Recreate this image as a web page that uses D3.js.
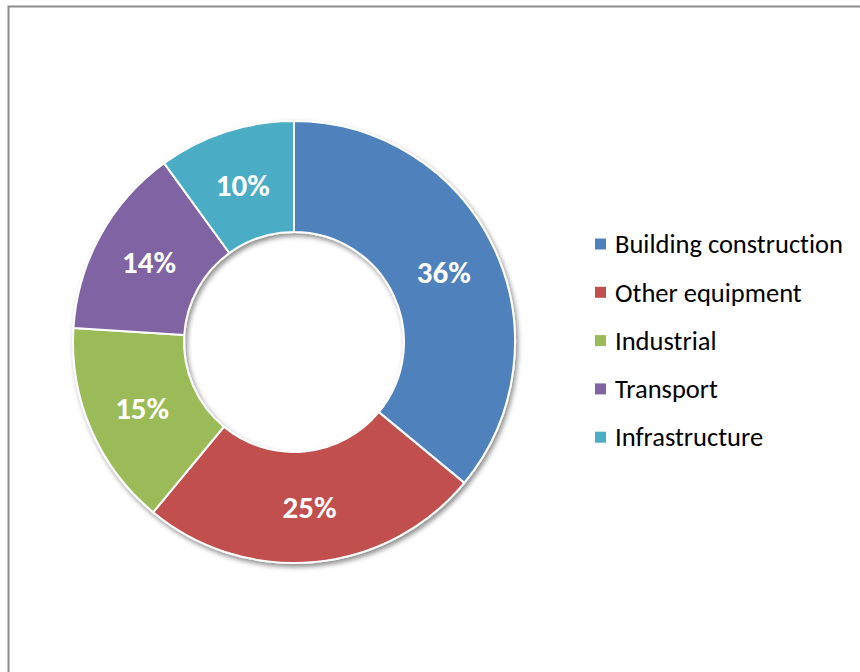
<!DOCTYPE html>
<html>
<head>
<meta charset="utf-8">
<script src="https://cdn.jsdelivr.net/npm/d3@7"></script>
<style>
  html, body { margin: 0; padding: 0; background: #fff; }
  svg { display: block; }
  text { font-family: Carlito, Lato, "Open Sans", sans-serif; font-variant-ligatures: none; font-feature-settings: "liga" 0, "clig" 0; }
</style>
</head>
<body>
<svg id="chart" width="860" height="672"></svg>
<script>
// Share of demand by end use
const categories = ["Building construction", "Other equipment", "Industrial", "Transport", "Infrastructure"];
const values = [36, 25, 15, 14, 10];
const colors = ["#4F81BD", "#C0504D", "#9BBB59", "#8064A2", "#4BACC6"];

const svg = d3.select("#chart");
const W = 860, H = 672;

// Chart frame
svg.append("rect")
  .attr("x", 8.5).attr("y", 6.5)
  .attr("width", W + 20).attr("height", H + 20)
  .attr("fill", "#fff")
  .attr("stroke", "#8c8c8c")
  .attr("stroke-width", 2);

// Soft drop shadow under the ring
const defs = svg.append("defs");
const f = defs.append("filter").attr("id", "shadow")
  .attr("x", "-20%").attr("y", "-20%").attr("width", "140%").attr("height", "140%");
f.append("feDropShadow")
  .attr("dx", 2).attr("dy", 3).attr("stdDeviation", 2.5)
  .attr("flood-color", "#000").attr("flood-opacity", 0.45);

const cx = 294, cy = 342;
const outerR = 221, innerR = 110;

const data = categories.map((c, i) => ({ name: c, value: values[i], color: colors[i] }));

const pie = d3.pie().value(d => d.value).sort(null);
const arc = d3.arc().innerRadius(innerR).outerRadius(outerR);
const labelArc = d3.arc().innerRadius((innerR + outerR) / 2).outerRadius((innerR + outerR) / 2);
const arcs = pie(data);

const g = svg.append("g").attr("transform", `translate(${cx},${cy})`);

g.append("g").attr("filter", "url(#shadow)")
  .selectAll("path")
  .data(arcs)
  .join("path")
  .attr("d", arc)
  .attr("fill", d => d.data.color)
  .attr("stroke", "#fff")
  .attr("stroke-width", 2)
  .attr("stroke-linejoin", "round");

const total = d3.sum(values);
const pct = g.selectAll("text.pct")
  .data(arcs)
  .join("text")
  .attr("class", "pct")
  .attr("transform", d => `translate(${labelArc.centroid(d)})`)
  .attr("text-anchor", "middle")
  .attr("dy", "0.36em")
  .attr("fill", "#fff")
  .attr("font-weight", "bold")
  .attr("font-size", 27)
  .text(d => Math.round(d.data.value / total * 100) + "%");

// Size the slice labels so "36%" spans about 54px
const pl = pct.node().getComputedTextLength();
if (pl > 0) pct.attr("font-size", 27 * 54 / pl);

// Legend
const legendX = 595, legendY0 = 244, legendStep = 48.3;
const legend = svg.append("g");
const items = legend.selectAll("g")
  .data(data)
  .join("g")
  .attr("transform", (d, i) => `translate(${legendX},${legendY0 + i * legendStep})`);

items.append("rect")
  .attr("x", 0).attr("y", -5.5)
  .attr("width", 11).attr("height", 11)
  .attr("fill", d => d.color);

items.append("text")
  .attr("x", 20)
  .attr("dy", "0.35em")
  .attr("font-size", 22)
  .attr("fill", "#000")
  .text(d => d.name);

// Fit legend text width to the space available
const first = items.select("text").node();
const target = 228;
const len = first.getComputedTextLength();
if (len > 0) {
  const fs = 22 * target / len;
  items.selectAll("text").attr("font-size", fs);
}
</script>
</body>
</html>
